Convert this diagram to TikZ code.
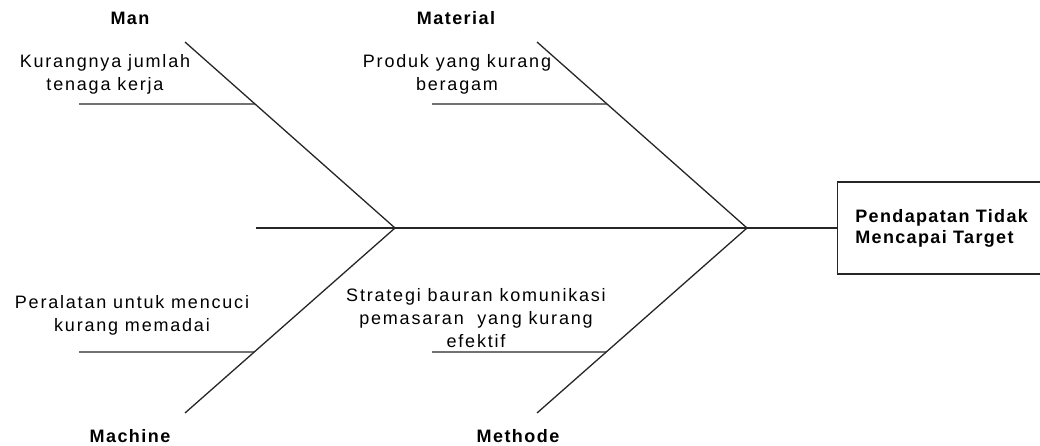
\documentclass[tikz,border=0pt]{standalone}
\usepackage{fontspec}
\setmainfont{Liberation Sans}[LetterSpace=10]
\usetikzlibrary{calc}
\begin{document}
\begin{tikzpicture}[x=1pt,y=-1pt,
  bone/.style={line width=1.3pt,draw=black!85},
  cause/.style={font=\fontsize{18}{23}\selectfont,align=center,inner sep=0pt},
  cat/.style={font=\fontsize{18}{22}\selectfont\bfseries\addfontfeature{LetterSpace=8},inner sep=0pt},
  effectbox/.style={draw=black!85,line width=1.3pt,minimum width=208pt,minimum height=92pt,
    font=\fontsize{18}{21}\selectfont\bfseries\addfontfeature{LetterSpace=7.5},align=left,inner sep=0pt}]
\useasboundingbox (0,0) rectangle (1040,446);
% key points
\coordinate (S) at (256,228);
\coordinate (J1) at (395,228);
\coordinate (J2) at (747,228);
\coordinate (T1) at (185,42);
\coordinate (T2) at (537,42);
\coordinate (B1) at (185,413);
\coordinate (B2) at (537,413);
\coordinate (u1) at ($(T1)!1/3!(J1)$);
\coordinate (u2) at ($(T2)!1/3!(J2)$);
\coordinate (l1) at ($(J1)!0.67!(B1)$);
\coordinate (l2) at ($(J2)!0.67!(B2)$);
\coordinate (u1s) at (79,104);
\coordinate (u2s) at (432,104);
\coordinate (l1s) at (79,352);
\coordinate (l2s) at (432,352);
% effect
\node[effectbox,anchor=west] (effect) at (837,228) {Pendapatan Tidak\\Mencapai Target};
% spine and bones
\draw[bone] (S) -- (J1) -- (J2) -- (effect.west);
\draw[bone] (T1) -- (J1) -- (B1);
\draw[bone] (T2) -- (J2) -- (B2);
\draw[bone] (u1s) -- (u1);
\draw[bone] (u2s) -- (u2);
\draw[bone] (l1s) -- (l1);
\draw[bone] (l2s) -- (l2);
% categories
\node[cat] (man) at (130,18) {Man};
\node[cat] (material) at (456,18) {Material};
\node[cat] (machine) at (130,436) {Machine};
\node[cat] (methode) at (518,436) {Methode};
% causes
\node[cause] (c1) at (105,74) {Kurangnya jumlah\\tenaga kerja};
\node[cause] (c2) at (457,74) {Produk yang kurang\\beragam};
\node[cause] (c3) at (132,315) {Peralatan untuk mencuci\\kurang memadai};
\node[cause] (c4) at (476,318) {Strategi bauran komunikasi\\pemasaran\ \ yang kurang\\efektif};
\end{tikzpicture}
\end{document}
